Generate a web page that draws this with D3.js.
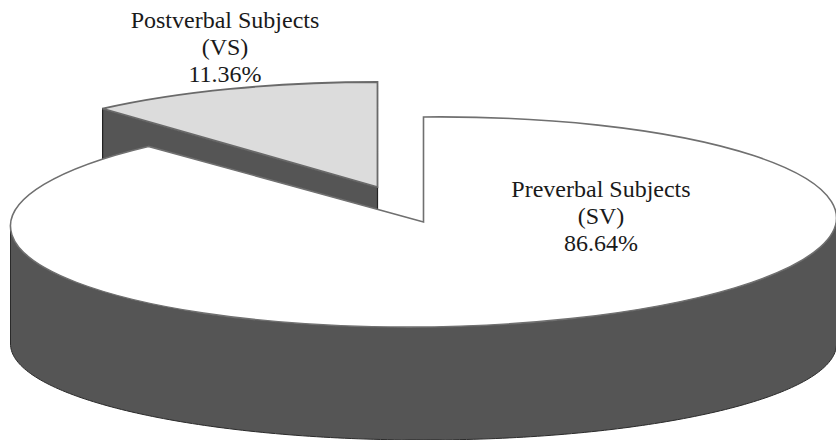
<!DOCTYPE html>
<html>
<head>
<meta charset="utf-8">
<script src="https://cdn.jsdelivr.net/npm/d3@7/dist/d3.min.js"></script>
<style>html,body{margin:0;padding:0;background:#fff}svg{display:block}</style>
</head>
<body>
<svg id="chart" width="836" height="440"></svg>
<script>
const categories = ["Preverbal Subjects", "Postverbal Subjects"];
const abbreviations = ["(SV)", "(VS)"];
const values = [86.64, 11.36];

const rx = 413, ry = 105, depth = 110;
const tilt = 0.01;
const bottomCy = 344, bottomRy = 96;
const centers = [[423.5, 222], [377.5, 187]];
const labelPos = [[601, 197], [225, 28]];
const lineGap = 27;
const topFill = ["#ffffff", "#dcdcdc"];
const sideFill = "#555555";

const svg = d3.select("#chart");
const defs = svg.append("defs");
defs.append("filter").attr("id", "soft")
  .append("feGaussianBlur").attr("stdDeviation", 0.5);

const pie = d3.pie().sort(null).startAngle(0).endAngle(2 * Math.PI);
const arcs = pie(values);
const unitArc = d3.arc().innerRadius(0).outerRadius(1);
const px = (c, a) => c[0] + rx * Math.sin(a);
const py = (c, a) => c[1] - ry * Math.cos(a);

const g = svg.append("g").attr("filter", "url(#soft)");

// Cut face of the small pulled-out slice (largely hidden by the big slice)
const small = arcs[1], cS = centers[1];
const face = [
  [cS[0], cS[1]],
  [px(cS, small.startAngle), py(cS, small.startAngle)],
  [px(cS, small.startAngle), py(cS, small.startAngle) + depth],
  [cS[0], cS[1] + depth]
];
g.append("path").attr("d", d3.line()(face) + "Z")
  .attr("fill", sideFill).attr("stroke", "#222").attr("stroke-width", 1.2);

// Top of the small slice
g.append("path").attr("d", unitArc(small))
  .attr("transform", `translate(${cS[0]},${cS[1]}) scale(${rx},${ry})`)
  .attr("fill", topFill[1]).attr("stroke", "#6a6a6a").attr("stroke-width", 1.8)
  .style("vector-effect", "non-scaling-stroke");

// Outer wall of the big slice (front half)
const big = arcs[0], cB = centers[0];
const wallAngles = d3.range(0, 181).map(i => Math.PI / 2 + i * Math.PI / 180);
const wall = d3.area()
  .x(a => px(cB, a))
  .y0(a => py(cB, a) - tilt * rx * Math.sin(a))
  .y1(a => bottomCy - bottomRy * Math.cos(a));
g.append("path").attr("d", wall(wallAngles))
  .attr("fill", sideFill).attr("stroke", "#2a2a2a").attr("stroke-width", 1);

// Top of the big slice
g.append("path").attr("d", unitArc(big))
  .attr("transform", `matrix(${rx},${-tilt * rx},0,${ry},${cB[0]},${cB[1]})`)
  .attr("fill", topFill[0]).attr("stroke", "#6f6f6f").attr("stroke-width", 1.6)
  .style("vector-effect", "non-scaling-stroke");

// Labels
const labels = svg.append("g")
  .attr("font-family", "'Liberation Serif', serif")
  .attr("font-size", 24)
  .attr("fill", "#1a1a1a")
  .attr("text-anchor", "middle");
categories.forEach((name, i) => {
  const [x, y] = labelPos[i];
  [name, abbreviations[i], d3.format(".2f")(values[i]) + "%"].forEach((t, k) => {
    labels.append("text").attr("x", x).attr("y", y + k * lineGap).text(t);
  });
});
</script>
</body>
</html>
